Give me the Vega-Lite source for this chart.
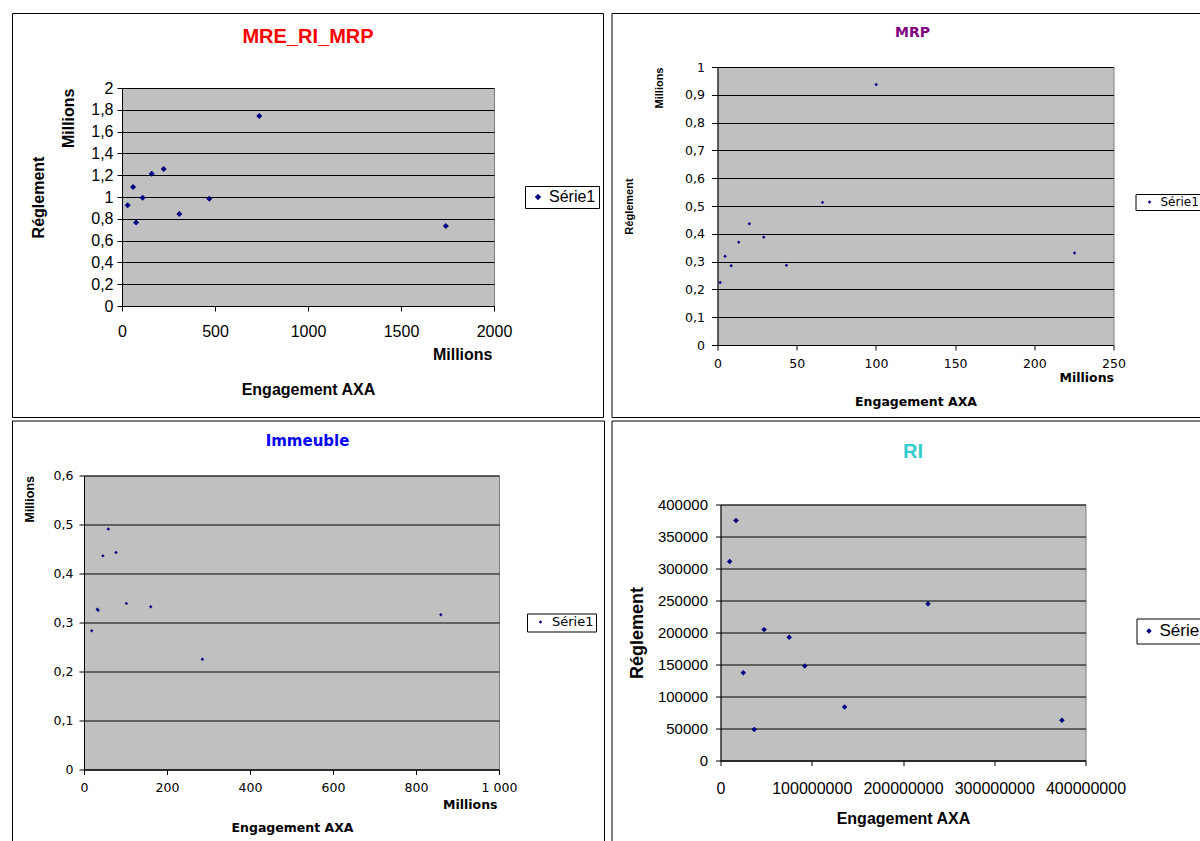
{
  "$schema": "https://vega.github.io/schema/vega-lite/v6.json",
  "background": "white",
  "padding": {"left": 11, "top": 12, "right": 0, "bottom": 0},
  "columns": 2,
  "align": "none",
  "bounds": "full",
  "spacing": {"row": 1.5, "column": 5.5},
  "resolve": {"scale": {"color": "independent"}, "legend": {"color": "independent"}},
  "config": {
    "view": {"fill": "#C0C0C0", "stroke": "#808080", "strokeWidth": 1},
    "axis": {"tickColor": "black", "domainColor": "black", "labelColor": "black", "titleColor": "black", "gridColor": "black", "gridOpacity": 1, "tickSize": 5, "labelFlush": false, "labelOverlap": false, "titleFontWeight": "bold"},
    "legend": {"labelColor": "black"}
  },
  "concat": [
    {
      "columns": 1, "align": "none", "bounds": "full",
      "spacing": -392,
      "resolve": {"scale": {"color": "independent"}, "legend": {"color": "independent"}},
      "concat": [
        {"width": 591, "height": 404, "data": {"values": []}, "mark": "point", "encoding": {}, "view": {"fill": null, "stroke": "black", "strokeWidth": 1}},
        {
          "spacing": 16,
          "resolve": {"scale": {"color": "independent"}, "legend": {"color": "independent"}},
          "hconcat": [
            {"width": 1, "height": 1, "data": {"values": []}, "mark": "point", "encoding": {}, "view": {"fill": null, "stroke": null}},
            {
              "width": 372, "height": 218,
              "title": {"text": "MRE_RI_MRP", "color": "#FF0000", "font": "Liberation Sans", "fontSize": 20, "fontWeight": "bold", "anchor": "middle", "frame": "group", "baseline": "bottom", "offset": 13},
              "data": {"values": [
                {"engagement": 30.6, "reglement": 0.924, "serie": "Série1"},
                {"engagement": 59.6, "reglement": 1.092, "serie": "Série1"},
                {"engagement": 76, "reglement": 0.765, "serie": "Série1"},
                {"engagement": 111, "reglement": 0.994, "serie": "Série1"},
                {"engagement": 160, "reglement": 1.214, "serie": "Série1"},
                {"engagement": 224, "reglement": 1.257, "serie": "Série1"},
                {"engagement": 308, "reglement": 0.844, "serie": "Série1"},
                {"engagement": 469, "reglement": 0.985, "serie": "Série1"},
                {"engagement": 738, "reglement": 1.743, "serie": "Série1"},
                {"engagement": 1741, "reglement": 0.734, "serie": "Série1"}
              ]},
              "layer": [
                {
                  "mark": {"type": "point", "shape": "diamond", "filled": true, "size": 36, "opacity": 1},
                  "encoding": {
                    "x": {"field": "engagement", "type": "quantitative", "scale": {"domain": [0, 2000], "nice": false},
                      "axis": {"values": [0, 500, 1000, 1500, 2000], "format": "d", "grid": false, "labelFont": "Liberation Sans", "labelFontSize": 16, "labelPadding": 12, "title": "Engagement AXA", "titleFont": "Liberation Sans", "titleFontSize": 16, "titleX": 186, "titleY": 83, "titleAlign": "center", "titleBaseline": "middle"}},
                    "y": {"field": "reglement", "type": "quantitative", "scale": {"domain": [0, 2], "nice": false},
                      "axis": {"values": [0, 0.2, 0.4, 0.6, 0.8, 1, 1.2, 1.4, 1.6, 1.8, 2], "labelExpr": "replace(format(datum.value, '.1~f'), '.', ',')", "grid": true, "labelFont": "Liberation Sans", "labelFontSize": 16, "labelPadding": 4, "title": "Réglement", "titleFont": "Liberation Sans", "titleFontSize": 16, "titleX": -83.5, "titleY": 109, "titleAngle": -90, "titleAlign": "center", "titleBaseline": "middle"}},
                    "color": {"field": "serie", "type": "nominal", "scale": {"range": ["#000080"]},
                      "legend": {"orient": "none", "legendX": 403, "legendY": 98, "title": null, "labelFont": "Liberation Sans", "labelFontSize": 16, "padding": 3, "symbolOffset": 2, "labelOffset": 3, "symbolSize": 40, "symbolType": "diamond", "strokeColor": "black", "fillColor": "white"}}
                  }
                },
                {
                  "mark": {"type": "point", "opacity": 0},
                  "encoding": {
                    "x": {"field": "engagement", "type": "quantitative",
                      "axis": {"orient": "bottom", "labels": false, "ticks": false, "domain": false, "grid": false, "title": "Millions", "titleFont": "Liberation Sans", "titleFontSize": 16, "titleX": 370, "titleY": 48, "titleAlign": "right", "titleBaseline": "middle"}},
                    "y": {"field": "reglement", "type": "quantitative",
                      "axis": {"orient": "left", "labels": false, "ticks": false, "domain": false, "grid": false, "title": "Millions", "titleFont": "Liberation Sans", "titleFontSize": 16, "titleX": -54, "titleY": 0, "titleAngle": -90, "titleAlign": "right", "titleBaseline": "middle"}}
                  }
                }
              ],
              "resolve": {"axis": {"x": "independent", "y": "independent"}}
            }
          ]
        }
      ]
    },
    {
      "columns": 1, "align": "none", "bounds": "full",
      "spacing": -393,
      "resolve": {"scale": {"color": "independent"}, "legend": {"color": "independent"}},
      "concat": [
        {"width": 600, "height": 404, "data": {"values": []}, "mark": "point", "encoding": {}, "view": {"fill": null, "stroke": "black", "strokeWidth": 1}},
        {
          "spacing": 10,
          "resolve": {"scale": {"color": "independent"}, "legend": {"color": "independent"}},
          "hconcat": [
            {"width": 1, "height": 1, "data": {"values": []}, "mark": "point", "encoding": {}, "view": {"fill": null, "stroke": null}},
            {
              "width": 396, "height": 278,
              "title": {"text": "MRP", "color": "#800080", "font": "DejaVu Sans", "fontSize": 14, "fontWeight": "bold", "anchor": "middle", "frame": "group", "baseline": "bottom", "offset": 7, "dx": -3},
              "data": {"values": [
                {"engagement": 1.7, "reglement": 0.225, "serie": "Série1"},
                {"engagement": 4.8, "reglement": 0.319, "serie": "Série1"},
                {"engagement": 8.6, "reglement": 0.285, "serie": "Série1"},
                {"engagement": 13.4, "reglement": 0.37, "serie": "Série1"},
                {"engagement": 20.1, "reglement": 0.436, "serie": "Série1"},
                {"engagement": 29.2, "reglement": 0.388, "serie": "Série1"},
                {"engagement": 43.5, "reglement": 0.287, "serie": "Série1"},
                {"engagement": 66.3, "reglement": 0.513, "serie": "Série1"},
                {"engagement": 100.2, "reglement": 0.937, "serie": "Série1"},
                {"engagement": 225.4, "reglement": 0.331, "serie": "Série1"}
              ]},
              "layer": [
                {
                  "mark": {"type": "point", "shape": "diamond", "filled": true, "size": 12, "opacity": 1},
                  "encoding": {
                    "x": {"field": "engagement", "type": "quantitative", "scale": {"domain": [0, 250], "nice": false},
                      "axis": {"values": [0, 50, 100, 150, 200, 250], "format": "d", "grid": false, "labelFont": "DejaVu Sans", "labelFontSize": 12.5, "labelPadding": 7, "title": "Engagement AXA", "titleFont": "DejaVu Sans", "titleFontSize": 12.5, "titleX": 198, "titleY": 56, "titleAlign": "center", "titleBaseline": "middle"}},
                    "y": {"field": "reglement", "type": "quantitative", "scale": {"domain": [0, 1], "nice": false},
                      "axis": {"values": [0, 0.1, 0.2, 0.3, 0.4, 0.5, 0.6, 0.7, 0.8, 0.9, 1], "labelExpr": "replace(format(datum.value, '.1~f'), '.', ',')", "grid": true, "tickSize": 6, "labelFont": "DejaVu Sans", "labelFontSize": 12.5, "labelPadding": 7, "title": "Réglement", "titleFont": "Liberation Sans", "titleFontSize": 11, "titleX": -88, "titleY": 139, "titleAngle": -90, "titleAlign": "center", "titleBaseline": "middle"}},
                    "color": {"field": "serie", "type": "nominal", "scale": {"range": ["#000080"]},
                      "legend": {"orient": "none", "legendX": 418, "legendY": 127, "title": null, "labelFont": "DejaVu Sans", "labelFontSize": 12, "padding": 2, "symbolOffset": 6, "labelOffset": 5, "symbolSize": 12, "symbolType": "diamond", "strokeColor": "black", "fillColor": "white"}}
                  }
                },
                {
                  "mark": {"type": "point", "opacity": 0},
                  "encoding": {
                    "x": {"field": "engagement", "type": "quantitative",
                      "axis": {"orient": "bottom", "labels": false, "ticks": false, "domain": false, "grid": false, "title": "Millions", "titleFont": "DejaVu Sans", "titleFontSize": 12.5, "titleX": 396, "titleY": 32, "titleAlign": "right", "titleBaseline": "middle"}},
                    "y": {"field": "reglement", "type": "quantitative",
                      "axis": {"orient": "left", "labels": false, "ticks": false, "domain": false, "grid": false, "title": "Millions", "titleFont": "Liberation Sans", "titleFontSize": 11, "titleX": -58, "titleY": 0, "titleAngle": -90, "titleAlign": "right", "titleBaseline": "middle"}}
                  }
                }
              ],
              "resolve": {"axis": {"x": "independent", "y": "independent"}}
            }
          ]
        }
      ]
    },
    {
      "columns": 1, "align": "none", "bounds": "full",
      "spacing": -419,
      "resolve": {"scale": {"color": "independent"}, "legend": {"color": "independent"}},
      "concat": [
        {"width": 592, "height": 430, "data": {"values": []}, "mark": "point", "encoding": {}, "view": {"fill": null, "stroke": "black", "strokeWidth": 1}},
        {
          "spacing": 9,
          "resolve": {"scale": {"color": "independent"}, "legend": {"color": "independent"}},
          "hconcat": [
            {"width": 1, "height": 1, "data": {"values": []}, "mark": "point", "encoding": {}, "view": {"fill": null, "stroke": null}},
            {
              "width": 415, "height": 294,
              "title": {"text": "Immeuble", "color": "#0000FF", "font": "DejaVu Sans", "fontSize": 15, "fontWeight": "bold", "anchor": "middle", "frame": "group", "baseline": "bottom", "offset": 6, "dx": 16},
              "data": {"values": [
                {"engagement": 18.6, "reglement": 0.283, "serie": "Série1"},
                {"engagement": 32, "reglement": 0.327, "serie": "Série1"},
                {"engagement": 34, "reglement": 0.325, "serie": "Série1"},
                {"engagement": 45.5, "reglement": 0.436, "serie": "Série1"},
                {"engagement": 58.6, "reglement": 0.491, "serie": "Série1"},
                {"engagement": 77.1, "reglement": 0.443, "serie": "Série1"},
                {"engagement": 102.2, "reglement": 0.339, "serie": "Série1"},
                {"engagement": 160.8, "reglement": 0.332, "serie": "Série1"},
                {"engagement": 285.3, "reglement": 0.225, "serie": "Série1"},
                {"engagement": 859.7, "reglement": 0.316, "serie": "Série1"}
              ]},
              "layer": [
                {
                  "mark": {"type": "point", "shape": "diamond", "filled": true, "size": 12, "opacity": 1},
                  "encoding": {
                    "x": {"field": "engagement", "type": "quantitative", "scale": {"domain": [0, 1000], "nice": false},
                      "axis": {"values": [0, 200, 400, 600, 800, 1000], "labelExpr": "replace(format(datum.value, ','), ',', ' ')", "grid": false, "labelFont": "DejaVu Sans", "labelFontSize": 12.5, "labelPadding": 7, "title": "Engagement AXA", "titleFont": "DejaVu Sans", "titleFontSize": 12.5, "titleX": 208, "titleY": 58, "titleAlign": "center", "titleBaseline": "middle"}},
                    "y": {"field": "reglement", "type": "quantitative", "scale": {"domain": [0, 0.6], "nice": false},
                      "axis": {"values": [0, 0.1, 0.2, 0.3, 0.4, 0.5, 0.6], "labelExpr": "replace(format(datum.value, '.1~f'), '.', ',')", "grid": true, "labelFont": "DejaVu Sans", "labelFontSize": 12.5, "labelPadding": 6, "title": null}},
                    "color": {"field": "serie", "type": "nominal", "scale": {"range": ["#000080"]},
                      "legend": {"orient": "none", "legendX": 443, "legendY": 138, "title": null, "labelFont": "DejaVu Sans", "labelFontSize": 13, "padding": 2, "symbolOffset": 5, "labelOffset": 5, "symbolSize": 12, "symbolType": "diamond", "strokeColor": "black", "fillColor": "white"}}
                  }
                },
                {
                  "mark": {"type": "point", "opacity": 0},
                  "encoding": {
                    "x": {"field": "engagement", "type": "quantitative",
                      "axis": {"orient": "bottom", "labels": false, "ticks": false, "domain": false, "grid": false, "title": "Millions", "titleFont": "DejaVu Sans", "titleFontSize": 12.5, "titleX": 413, "titleY": 35, "titleAlign": "right", "titleBaseline": "middle"}},
                    "y": {"field": "reglement", "type": "quantitative",
                      "axis": {"orient": "left", "labels": false, "ticks": false, "domain": false, "grid": false, "title": "Millions", "titleFont": "Liberation Sans", "titleFontSize": 12.5, "titleX": -55, "titleY": 0, "titleAngle": -90, "titleAlign": "right", "titleBaseline": "middle"}}
                  }
                }
              ],
              "resolve": {"axis": {"x": "independent", "y": "independent"}}
            }
          ]
        }
      ]
    },
    {
      "columns": 1, "align": "none", "bounds": "full",
      "spacing": -411,
      "resolve": {"scale": {"color": "independent"}, "legend": {"color": "independent"}},
      "concat": [
        {"width": 600, "height": 430, "data": {"values": []}, "mark": "point", "encoding": {}, "view": {"fill": null, "stroke": "black", "strokeWidth": 1}},
        {
          "spacing": 15,
          "resolve": {"scale": {"color": "independent"}, "legend": {"color": "independent"}},
          "hconcat": [
            {"width": 1, "height": 1, "data": {"values": []}, "mark": "point", "encoding": {}, "view": {"fill": null, "stroke": null}},
            {
              "width": 365, "height": 256,
              "title": {"text": "RI", "color": "#33CCCC", "font": "Liberation Sans", "fontSize": 20, "fontWeight": "bold", "anchor": "middle", "frame": "group", "baseline": "bottom", "offset": 16, "dx": 10},
              "data": {"values": [
                {"engagement": 10000000, "reglement": 311000, "serie": "Série1"},
                {"engagement": 17000000, "reglement": 375000, "serie": "Série1"},
                {"engagement": 25000000, "reglement": 137000, "serie": "Série1"},
                {"engagement": 37000000, "reglement": 48500, "serie": "Série1"},
                {"engagement": 47800000, "reglement": 204500, "serie": "Série1"},
                {"engagement": 75300000, "reglement": 192500, "serie": "Série1"},
                {"engagement": 92300000, "reglement": 147500, "serie": "Série1"},
                {"engagement": 136000000, "reglement": 83500, "serie": "Série1"},
                {"engagement": 227400000, "reglement": 245000, "serie": "Série1"},
                {"engagement": 374200000, "reglement": 63000, "serie": "Série1"}
              ]},
              "mark": {"type": "point", "shape": "diamond", "filled": true, "size": 30, "opacity": 1},
              "encoding": {
                "x": {"field": "engagement", "type": "quantitative", "scale": {"domain": [0, 400000000], "nice": false},
                  "axis": {"values": [0, 100000000, 200000000, 300000000, 400000000], "format": "d", "grid": false, "labelFont": "Liberation Sans", "labelFontSize": 16, "labelPadding": 15, "title": "Engagement AXA", "titleFont": "Liberation Sans", "titleFontSize": 16, "titleX": 182.5, "titleY": 58, "titleAlign": "center", "titleBaseline": "middle"}},
                "y": {"field": "reglement", "type": "quantitative", "scale": {"domain": [0, 400000], "nice": false},
                  "axis": {"values": [0, 50000, 100000, 150000, 200000, 250000, 300000, 350000, 400000], "format": "d", "grid": true, "labelFont": "Liberation Sans", "labelFontSize": 15, "labelPadding": 8, "title": "Réglement", "titleFont": "Liberation Sans", "titleFontSize": 18, "titleX": -83, "titleY": 128, "titleAngle": -90, "titleAlign": "center", "titleBaseline": "middle"}},
                "color": {"field": "serie", "type": "nominal", "scale": {"range": ["#000080"]},
                  "legend": {"orient": "none", "legendX": 416, "legendY": 114, "title": null, "labelFont": "Liberation Sans", "labelFontSize": 17, "padding": 4, "symbolOffset": 0, "labelOffset": 2, "symbolSize": 30, "symbolType": "diamond", "strokeColor": "black", "fillColor": "white"}}
              }
            }
          ]
        }
      ]
    }
  ]
}
